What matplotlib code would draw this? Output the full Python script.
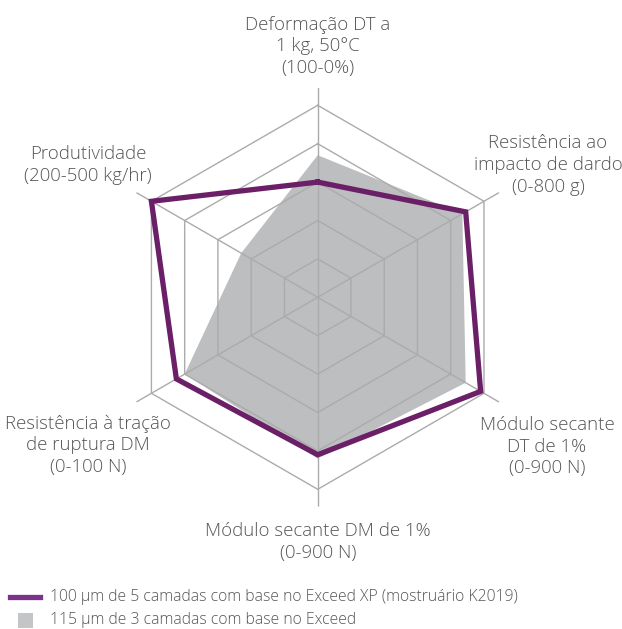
import numpy as np
import matplotlib
matplotlib.use("Agg")
import matplotlib.pyplot as plt
from matplotlib.lines import Line2D
from matplotlib.patches import Rectangle

plt.rcParams['font.family'] = ['Open Sans', 'DejaVu Sans']

categories = [
    "Deformação DT a\n1 kg, 50°C\n(100-0%)",
    "Resistência ao\nimpacto de dardo\n(0-800 g)",
    "Módulo secante\nDT de 1%\n(0-900 N)",
    "Módulo secante DM de 1%\n(0-900 N)",
    "Resistência à tração\nde ruptura DM\n(0-100 N)",
    "Produtividade\n(200-500 kg/hr)",
]
series_names = [
    "100 μm de 5 camadas com base no Exceed XP (mostruário K2019)",
    "115 μm de 3 camadas com base no Exceed",
]
exceed_xp = [0.60, 0.89, 0.98, 0.82, 0.85, 1.00]
exceed = [0.74, 0.87, 0.89, 0.84, 0.80, 0.46]
rings = [0.2, 0.4, 0.6, 0.8, 1.0]

W, H = 622, 629
fig = plt.figure(figsize=(W / 100, H / 100), dpi=100)

cx, cy, R = 317.7, 297.3, 192.0
rmax = 1.09
half = R * rmax
ax = fig.add_axes([(cx - half) / W, (H - cy - half) / H, 2 * half / W, 2 * half / H],
                  projection='polar')
ax.set_theta_zero_location('N')
ax.set_theta_direction(-1)
ax.set_ylim(0, rmax)
ax.grid(False)
ax.spines['polar'].set_visible(False)
ax.set_xticks([])
ax.set_yticks([])
ax.patch.set_alpha(0)

n = len(categories)
angles = np.arange(n) * 2 * np.pi / n
closed = np.concatenate([angles, angles[:1]])

grid_color = '#ababab'
for r in rings:
    ax.plot(closed, [r] * (n + 1), color=grid_color, lw=1.0, zorder=1)
for a in angles:
    ax.plot([a, a], [0, rmax], color=grid_color, lw=1.0, zorder=1)

ex = np.concatenate([exceed, exceed[:1]])
ax.fill(closed, ex, color='#bdbec0', lw=0, zorder=0.5)
xp = np.concatenate([exceed_xp, exceed_xp[:1]])
purple = '#6a1f66'
ax.plot(closed, xp, color=purple, lw=3.8, zorder=3, solid_joinstyle='miter')

text_color = '#555555'
label_pos = [(318, 46), (548, 165), (547, 447), (318, 542), (88, 445), (88, 165)]
for lab, (x, y) in zip(categories, label_pos):
    fig.text(x / W, 1 - y / H, lab, ha='center', va='center', fontsize=13.4,
             fontweight='light', color=text_color, linespacing=1.25,
             multialignment='center')

# legend
fig.add_artist(Line2D([10 / W, 40 / W], [1 - 597 / H, 1 - 597 / H], color='#7a3388',
                      lw=3.8, transform=fig.transFigure))
fig.add_artist(Rectangle((18 / W, 1 - 628 / H), 15 / W, 15 / H, color='#c4c5c7',
                         transform=fig.transFigure, lw=0))
fig.text(50 / W, 1 - 597 / H, series_names[0], ha='left', va='center', fontsize=11.3,
         fontweight='light', color=text_color)
fig.text(50 / W, 1 - 620 / H, series_names[1], ha='left', va='center', fontsize=11.3,
         fontweight='light', color=text_color)

fig.savefig('out.png', dpi=100)
